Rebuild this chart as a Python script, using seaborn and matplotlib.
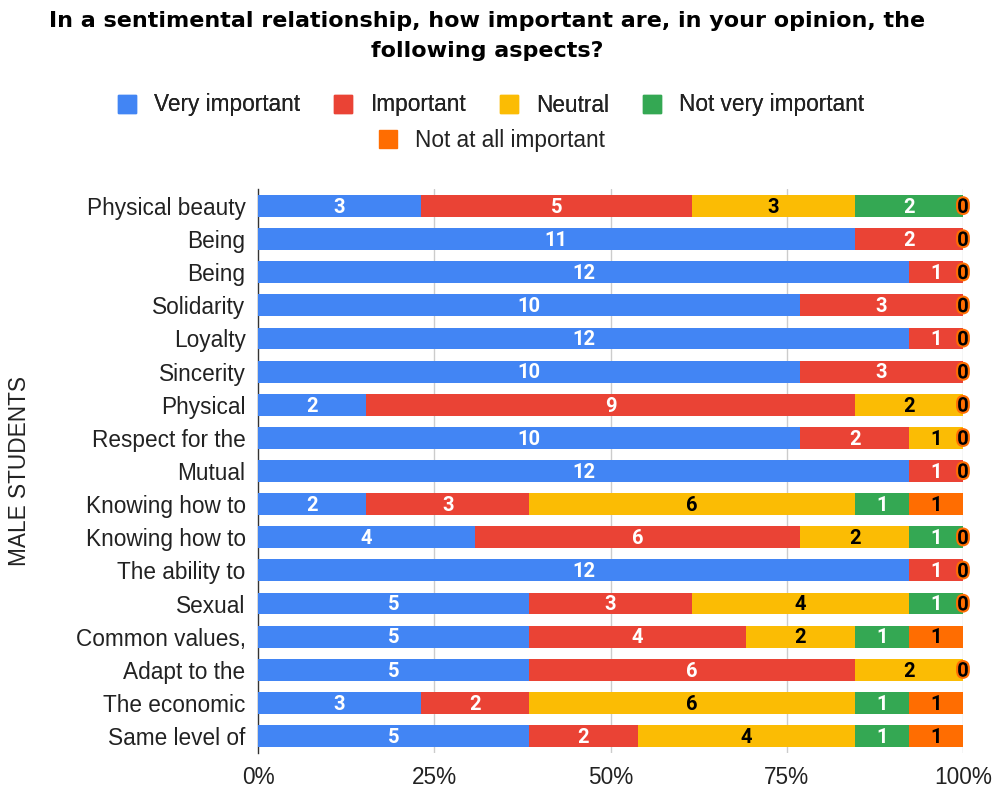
import matplotlib
matplotlib.use("Agg")
import matplotlib.pyplot as plt
import matplotlib.patheffects as pe
from matplotlib.lines import Line2D
import seaborn as sns
import pandas as pd
import numpy as np

categories = ["Physical beauty", "Being", "Being", "Solidarity", "Loyalty", "Sincerity",
              "Physical", "Respect for the", "Mutual", "Knowing how to", "Knowing how to",
              "The ability to", "Sexual", "Common values,", "Adapt to the", "The economic",
              "Same level of"]
very_important = [3, 11, 12, 10, 12, 10, 2, 10, 12, 2, 4, 12, 5, 5, 5, 3, 5]
important      = [5, 2, 1, 3, 1, 3, 9, 2, 1, 3, 6, 1, 3, 4, 6, 2, 2]
neutral        = [3, 0, 0, 0, 0, 0, 2, 1, 0, 6, 2, 0, 4, 2, 2, 6, 4]
not_very       = [2, 0, 0, 0, 0, 0, 0, 0, 0, 1, 1, 0, 1, 1, 0, 1, 1]
not_at_all     = [0, 0, 0, 0, 0, 0, 0, 0, 0, 1, 0, 0, 0, 1, 0, 1, 1]

series_names = ["Very important", "Important", "Neutral", "Not very important", "Not at all important"]
series_vals = [very_important, important, neutral, not_very, not_at_all]
colors = ["#4285F4", "#EA4335", "#FBBC04", "#34A853", "#FF6D01"]
text_colors = ["white", "white", "black", "white", "black"]

sns.set_theme(style="white")
plt.rcParams["font.family"] = ["Liberation Sans", "DejaVu Sans"]

FS = 16.3
LBL = 14.5

vals = np.array(series_vals, dtype=float)  # 5 x n
totals = vals.sum(axis=0)
pct = vals / totals * 100
cum = np.cumsum(pct, axis=0)
n = len(categories)
row_ids = [f"r{i}" for i in range(n)]

fig = plt.figure(figsize=(9.94, 7.94), dpi=100)
ax = fig.add_axes([258/994, 1-752.6/794, (963-258)/994, (752.6-189.4)/794])

for g in [25, 50, 75, 100]:
    ax.axvline(g, color="#cccccc", lw=1, zorder=0)

for k in range(4, -1, -1):
    df = pd.DataFrame({"row": row_ids, "value": cum[k]})
    sns.barplot(data=df, x="value", y="row", orient="h", color=colors[k],
                saturation=1, width=0.66, ax=ax, zorder=2 + (4 - k), linewidth=0)

for k in range(5):
    for i in range(n):
        v = vals[k, i]
        if v > 0:
            xc = cum[k, i] - pct[k, i] / 2
            ax.text(xc, i + 0.04, f"{int(v)}", ha="center", va="center", color=text_colors[k],
                    fontsize=LBL, fontweight="bold", family=["Roboto", "DejaVu Sans"], zorder=20)
for i in range(n):
    if vals[4, i] == 0:
        t = ax.text(100, i + 0.04, "0", ha="center", va="center", color="black",
                    fontsize=LBL, fontweight="bold", family=["Roboto", "DejaVu Sans"], zorder=21)
        t.set_path_effects([pe.withStroke(linewidth=3, foreground="#FF6D01")])

ax.set_xlim(0, 100)
ax.set_ylim(n - 0.5, -0.5)
ax.set_xticks([0, 25, 50, 75, 100])
ax.set_xticklabels(["0%", "25%", "50%", "75%", "100%"], fontsize=FS, color="#222222")
ax.set_yticks(range(n))
ax.set_yticklabels(categories, fontsize=FS, color="#222222")
ax.tick_params(axis="y", length=0, pad=9)
ax.tick_params(axis="x", length=0, pad=10)
ax.set_xlabel("")
ax.set_ylabel("MALE STUDENTS", fontsize=FS, color="#222222")
ax.yaxis.set_label_coords((31 - 258) / 705, 0.5)
for s in ["top", "right", "bottom"]:
    ax.spines[s].set_visible(False)
ax.spines["left"].set_color("#333333")
ax.spines["left"].set_linewidth(1)

fig.text(0.49, 1 - 36/794, "In a sentimental relationship, how important are, in your opinion, the\nfollowing aspects?",
         ha="center", va="center", fontsize=16, fontweight="bold", color="black",
         linespacing=1.6, family=["DejaVu Sans"])

handles = [Line2D([0], [0], marker="s", color="none", markerfacecolor=c, markeredgecolor=c,
                  markersize=13) for c in colors]
leg1 = fig.legend(handles[:4], series_names[:4], loc="center", bbox_to_anchor=(0.493, 1 - 105/794),
                  ncol=4, frameon=False, fontsize=FS, handletextpad=0.7, columnspacing=1.4,
                  handlelength=1.0)
leg2 = fig.legend(handles[4:], series_names[4:], loc="center", bbox_to_anchor=(0.494, 1 - 140/794),
                  ncol=1, frameon=False, fontsize=FS, handletextpad=0.7, handlelength=1.0)
for leg in (leg1, leg2):
    for t in leg.get_texts():
        t.set_color("#222222")
fig.add_artist(leg1)

fig.savefig("out.png", dpi=100)
